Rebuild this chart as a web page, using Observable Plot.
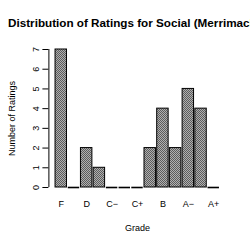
<!DOCTYPE html>
<html>
<head>
<meta charset="utf-8">
<script src="https://cdn.jsdelivr.net/npm/d3@7"></script>
<script src="https://cdn.jsdelivr.net/npm/@observablehq/plot@0.6"></script>
<style>
  html, body { margin: 0; padding: 0; background: #fff; overflow: hidden; }
  #wrap { position: relative; width: 250px; height: 250px; overflow: hidden; }
  #title { position: absolute; left: 8px; top: 16px; font: bold 11.7px "Liberation Sans", Arial, sans-serif; white-space: nowrap; color: #000; }
  svg { position: absolute; left: 0; top: 0; }
</style>
</head>
<body>
<div id="wrap">
  <div id="title">Distribution of Ratings for Social (Merrimack College)</div>
</div>
<script>
const grades = ["F", "D−", "D", "D+", "C−", "C", "C+", "B−", "B", "B+", "A−", "A", "A+"];
const counts = [7, 0, 2, 1, 0, 0, 0, 2, 4, 2, 5, 4, 0];
const labelledGrades = ["F", "D", "C−", "C+", "B", "A−", "A+"];
const yTicks = [0, 1, 2, 3, 4, 5, 6, 7];

const data = grades.map((g, i) => ({grade: g, i, n: counts[i]}));
const zeros = data.filter(d => d.n === 0);
const pad = 0.05;

const chart = Plot.plot({
  width: 250,
  height: 250,
  marginTop: 49,
  marginBottom: 63,
  marginLeft: 54.4,
  marginRight: 30.4,
  style: {fontFamily: "'Liberation Sans', Arial, sans-serif", fontSize: "9px", background: "white", color: "black"},
  x: {domain: [0, grades.length], axis: null},
  y: {domain: [0, 7], axis: null},
  marks: [
    Plot.rectY(data, {x1: d => d.i + pad, x2: d => d.i + 1 - pad, y1: 0, y2: "n", fill: "url(#checker)", stroke: "black", strokeWidth: 1}),
    Plot.ruleY(zeros, {x1: d => d.i + pad, x2: d => d.i + 1 - pad, y: 0, stroke: "black", strokeWidth: 1.6}),
    Plot.axisX({
      ticks: labelledGrades.map(g => grades.indexOf(g) + 0.5),
      tickFormat: v => grades[Math.floor(v)],
      tickSize: 0,
      tickPadding: 13,
      label: "Grade",
      labelAnchor: "center",
      labelArrow: "none",
      labelOffset: 43,
      fontSize: 9
    }),
    Plot.axisY({
      ticks: yTicks,
      tickFormat: d3.format("d"),
      tickSize: 6,
      dx: -6,
      tickRotate: -90,
      tickPadding: 4,
      label: "Number of Ratings",
      labelAnchor: "center",
      labelArrow: "none",
      labelOffset: 46,
      fontSize: 9
    }),
    Plot.ruleX([0], {x: -6 / 12.71, y1: 0, y2: 7, stroke: "black", strokeWidth: 1})
  ]
});

const svg = d3.select(chart);
const defs = svg.insert("defs", ":first-child");
const pat = defs.append("pattern").attr("id", "checker").attr("patternUnits", "userSpaceOnUse")
  .attr("width", 2).attr("height", 2);
pat.append("rect").attr("width", 2).attr("height", 2).attr("fill", "#b0b0b0");
pat.append("rect").attr("width", 1).attr("height", 1).attr("fill", "#5c5c5c");
pat.append("rect").attr("x", 1).attr("y", 1).attr("width", 1).attr("height", 1).attr("fill", "#5c5c5c");

document.getElementById("wrap").prepend(chart);
</script>
</body>
</html>
